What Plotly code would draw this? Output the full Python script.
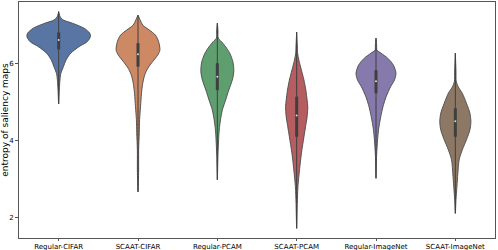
import plotly.graph_objects as go

categories = ["Regular-CIFAR", "SCAAT-CIFAR", "Regular-PCAM", "SCAAT-PCAM",
              "Regular-ImageNet", "SCAAT-ImageNet"]

# density profiles (entropy level -> relative density)
levels_regular_cifar = [4.96, 5.32, 5.58, 5.76, 5.93, 6.10, 6.28, 6.45, 6.58, 6.71, 6.80, 6.93, 7.06, 7.14, 7.22, 7.36]
density_regular_cifar = [0, .02, .04, .07, .15, .23, .38, .64, .90, 1.00, .98, .80, .43, .15, .05, 0]

levels_scaat_cifar = [2.68, 3.25, 3.77, 4.21, 4.55, 4.89, 5.24, 5.50, 5.71, 5.89, 6.06, 6.23, 6.36, 6.58, 6.75, 6.88, 7.01, 7.14, 7.27]
density_scaat_cifar = [0, .02, .02, .04, .05, .08, .11, .15, .21, .31, .46, .62, .69, .65, .55, .36, .15, .07, 0]

levels_regular_pcam = [2.99, 3.64, 4.03, 4.29, 4.55, 4.81, 5.06, 5.32, 5.58, 5.80, 6.06, 6.28, 6.45, 6.58, 6.67, 6.88, 7.06]
density_regular_pcam = [0, .02, .04, .06, .10, .16, .26, .36, .47, .52, .49, .39, .26, .13, .03, .02, 0]

levels_scaat_pcam = [1.73, 2.38, 2.81, 3.25, 3.68, 4.11, 4.37, 4.63, 4.89, 5.06, 5.32, 5.58, 5.84, 6.10, 6.28, 6.49, 6.83]
density_scaat_pcam = [0, .02, .04, .09, .15, .23, .28, .33, .35, .33, .29, .23, .15, .07, .03, .02, 0]

levels_regular_imagenet = [3.03, 3.64, 4.03, 4.29, 4.63, 4.89, 5.15, 5.41, 5.58, 5.76, 5.97, 6.15, 6.28, 6.36, 6.49, 6.67]
density_regular_imagenet = [0, .02, .05, .08, .15, .22, .32, .46, .58, .63, .55, .37, .16, .03, .02, 0]

levels_scaat_imagenet = [2.12, 2.47, 2.81, 3.16, 3.51, 3.77, 4.03, 4.29, 4.50, 4.72, 4.98, 5.24, 5.41, 5.54, 5.84, 6.28]
density_scaat_imagenet = [0, .02, .05, .08, .12, .22, .35, .46, .49, .46, .35, .22, .09, .03, .02, 0]

# quartiles
q1_values = [6.38, 5.93, 5.32, 4.11, 5.24, 4.11]
median_values = [6.62, 6.25, 5.67, 4.66, 5.55, 4.51]
q3_values = [6.82, 6.54, 6.02, 5.15, 5.84, 4.85]

y_tick_values = [2, 4, 6]

levels = [levels_regular_cifar, levels_scaat_cifar, levels_regular_pcam,
          levels_scaat_pcam, levels_regular_imagenet, levels_scaat_imagenet]
densities = [density_regular_cifar, density_scaat_cifar, density_regular_pcam,
             density_scaat_pcam, density_regular_imagenet, density_scaat_imagenet]

colors = ["#5875A4", "#CC8963", "#5F9E6E", "#B55D60", "#857AAB", "#8D7866"]
edge = "#4a4a4a"
max_half_width = 0.4
dmax = max(max(d) for d in densities)

fig = go.Figure()
for i, (lv, dn) in enumerate(zip(levels, densities)):
    right = [i + max_half_width * d / dmax for d in dn]
    left = [i - max_half_width * d / dmax for d in dn]
    xs = right + left[::-1]
    ys = lv + lv[::-1]
    fig.add_trace(go.Scatter(x=xs, y=ys, mode="lines", fill="toself",
                             fillcolor=colors[i],
                             line=dict(color=edge, width=0.9, shape="spline", smoothing=0.8),
                             hoverinfo="skip", showlegend=False))
    # whisker
    fig.add_trace(go.Scatter(x=[i, i], y=[lv[0], lv[-1]], mode="lines",
                             line=dict(color="#3f3f3f", width=1),
                             hoverinfo="skip", showlegend=False))
    # box
    fig.add_trace(go.Scatter(x=[i, i], y=[q1_values[i], q3_values[i]], mode="lines",
                             line=dict(color="#3f3f3f", width=3),
                             hoverinfo="skip", showlegend=False))
    fig.add_trace(go.Scatter(x=[i], y=[median_values[i]], mode="markers",
                             marker=dict(color="#d8d8d8", size=2, line=dict(width=0)),
                             hoverinfo="skip", showlegend=False))

fig.update_layout(
    width=498, height=250,
    margin=dict(l=19, r=3, t=2, b=12),
    paper_bgcolor="white", plot_bgcolor="white",
    font=dict(family="DejaVu Sans", color="black", size=7),
)
fig.update_xaxes(range=[-0.5, 5.5], tickvals=list(range(len(categories))),
                 ticktext=categories, showgrid=False, zeroline=False,
                 showline=True, mirror=True, linecolor="#555555", linewidth=1,
                 ticks="outside", ticklen=2, tickwidth=1, tickcolor="#555555",
                 tickfont=dict(size=7), automargin=False)
fig.update_yaxes(range=[1.48, 7.61], tickvals=y_tick_values,
                 ticktext=[str(v) for v in y_tick_values],
                 showgrid=False, zeroline=False,
                 showline=True, mirror=True, linecolor="#555555", linewidth=1,
                 ticks="outside", ticklen=3, tickwidth=1, tickcolor="#555555",
                 tickfont=dict(size=7), automargin=False,
                 title=dict(text="entropy of saliency maps", font=dict(size=9), standoff=2))

fig.write_html("out.html", config={"displayModeBar": False},
               post_script="document.body.style.margin='0';document.body.style.overflow='hidden';")
